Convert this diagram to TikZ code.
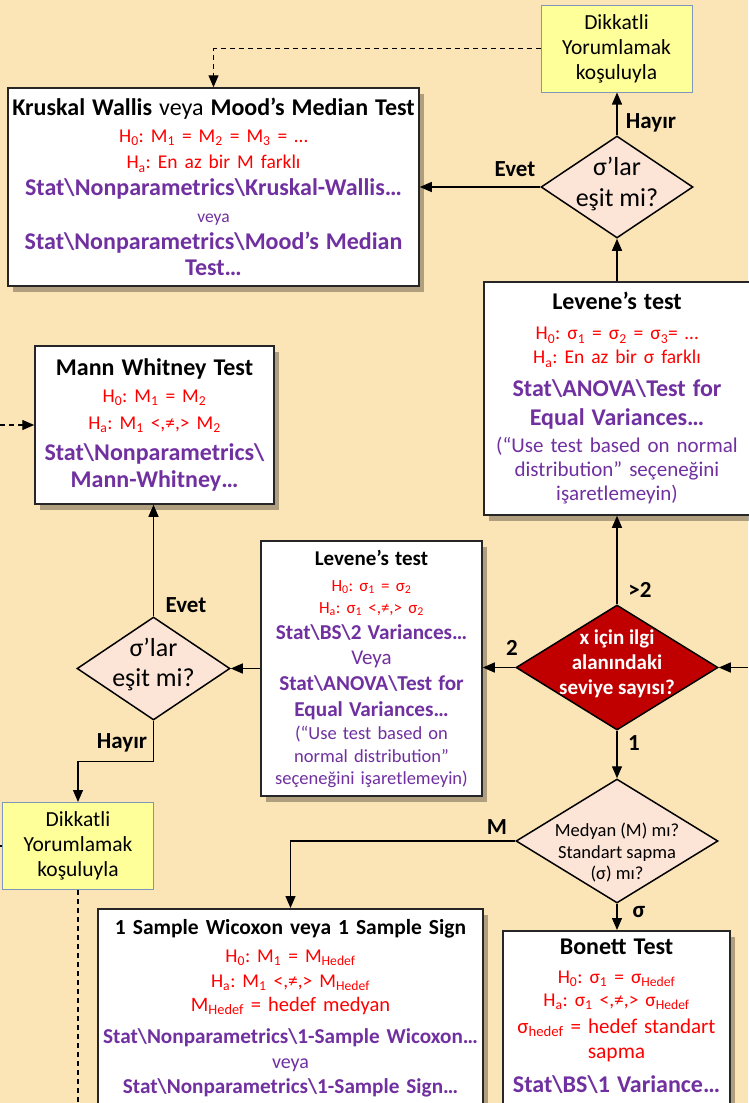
\documentclass[tikz,border=0pt]{standalone}
\usepackage{fontspec}
\setmainfont{Carlito}
\usepackage{tikz}
\usetikzlibrary{arrows.meta, positioning, shapes.geometric, shadows}
\frenchspacing

\definecolor{bgtan}{RGB}{251,229,182}
\definecolor{hred}{RGB}{255,0,0}
\definecolor{prp}{RGB}{112,48,160}
\definecolor{notefill}{RGB}{255,255,153}
\definecolor{noteline}{RGB}{125,150,185}
\definecolor{peach}{RGB}{252,228,214}
\definecolor{darkred}{RGB}{192,0,0}

\newcommand{\bs}{\textbackslash}
\newcommand{\sbs}[1]{\textsubscript{#1}}
\newcommand{\ttl}{\fontsize{24}{24}\selectfont\bfseries}
\newcommand{\ttls}{\fontsize{21}{21}\selectfont\bfseries}
\newcommand{\pth}{\fontsize{24}{24}\selectfont\bfseries\color{prp}}
\newcommand{\pths}{\fontsize{21.2}{21.2}\selectfont\bfseries\color{prp}}
\newcommand{\hyp}{\fontsize{19.5}{19.5}\selectfont\color{hred}}
\newcommand{\hyps}{\fontsize{17}{17}\selectfont\color{hred}}

\begin{document}
\begin{tikzpicture}[x=1pt, y=-1pt,
    box/.style={draw=black!85, line width=1.5pt, fill=white, align=center, inner xsep=1pt,
        drop shadow={shadow xshift=5pt, shadow yshift=-6pt, opacity=0.3, fill=black}},
    note/.style={draw=noteline, line width=1pt, fill=notefill, align=center, inner sep=0pt,
        minimum width=151pt, minimum height=87pt, font=\fontsize{21.5}{25}\selectfont},
    ask/.style={diamond, draw=black, line width=1.5pt, fill=peach, inner sep=0pt},
    flow/.style={-{Triangle[length=12pt,width=10pt]}, line width=1.3pt},
    dflow/.style={flow, dash pattern=on 5pt off 4pt},
    lbl/.style={font=\fontsize{23}{23}\selectfont\bfseries, inner sep=0pt}
]
\useasboundingbox (0,0) rectangle (748,1103);
\fill[bgtan] (0,0) rectangle (748,1103);

% Notes
\node[note] (yel1) at (616.5,48.5) {Dikkatli\\Yorumlamak\\koşuluyla};
\node[note] (yel2) at (78,846) {Dikkatli\\Yorumlamak\\koşuluyla};

% Test boxes
\node[box, minimum width=411pt, minimum height=198pt, text width=409pt,
    font=\fontsize{21}{26.7}\selectfont] (krus) at (213.5,187) {%
    {\ttl Kruskal Wallis {\mdseries veya} Mood’s Median Test}\\
    {\hyp H\sbs{0}: M\sbs{1} = M\sbs{2} = M\sbs{3} = …}\\
    {\hyp H\sbs{a}: En az bir M farklı}\\
    {\pth Stat\bs Nonparametrics\bs Kruskal-Wallis…}\\
    {\color{prp}\fontsize{17.5}{17.5}\selectfont veya}\\
    {\pth Stat\bs Nonparametrics\bs Mood’s Median}\\
    {\pth Test…}};

\node[box, minimum width=239pt, minimum height=158pt, text width=237pt,
    font=\fontsize{21}{27}\selectfont] (mann) at (154.5,425) {%
    {\ttl Mann Whitney Test}\\
    {\hyp H\sbs{0}: M\sbs{1} = M\sbs{2}}\\
    {\hyp H\sbs{a}: M\sbs{1} <,≠,> M\sbs{2}}\\[4pt]
    {\pth Stat\bs Nonparametrics\bs}\\
    {\pth Mann-Whitney…}};

\node[box, minimum width=266pt, minimum height=233pt, text width=264pt,
    font=\fontsize{21}{24}\selectfont] (lev3) at (617,398.5) {%
    {\ttl Levene’s test}\\[6pt]
    {\hyp H\sbs{0}: σ\sbs{1} = σ\sbs{2} = σ\sbs{3}= …}\\
    {\hyp H\sbs{a}: En az bir σ farklı}\\[9pt]
    {\pth Stat\bs ANOVA\bs Test for}\\[5pt]
    {\pth Equal Variances…}\\[3pt]
    {\color{prp}(“Use test based on normal}\\
    {\color{prp}distribution” seçeneğini}\\
    {\color{prp}işaretlemeyin)}};

\node[box, minimum width=221pt, minimum height=255pt, text width=219pt,
    font=\fontsize{18.5}{23}\selectfont] (lev2) at (371.5,668.5) {%
    {\ttls Levene’s test}\\[3pt]
    {\hyps H\sbs{0}: σ\sbs{1} = σ\sbs{2}}\\[-1pt]
    {\hyps H\sbs{a}: σ\sbs{1} <,≠,> σ\sbs{2}}\\[3pt]
    {\pths Stat\bs BS\bs 2 Variances…}\\[2pt]
    {\color{prp}\fontsize{21}{21}\selectfont Veya}\\[3pt]
    {\pths Stat\bs ANOVA\bs Test for}\\[3pt]
    {\pths Equal Variances…}\\
    {\color{prp}(“Use test based on}\\
    {\color{prp}normal distribution”}\\[-1pt]
    {\color{prp}seçeneğini işaretlemeyin)}};

\node[box, anchor=north, minimum width=385pt, text width=383pt, inner ysep=11pt,
    font=\fontsize{21}{24.5}\selectfont] (one) at (290.5,908) {%
    {\fontsize{21.5}{21.5}\selectfont\bfseries 1 Sample Wicoxon veya 1 Sample Sign}\\[3.5pt]
    {\hyp H\sbs{0}: M\sbs{1} = M\sbs{Hedef}}\\
    {\hyp H\sbs{a}: M\sbs{1} <,≠,> M\sbs{Hedef}}\\
    {\hyp\fontsize{20.5}{20.5}\selectfont M\sbs{Hedef} = hedef medyan}\\[7.5pt]
    {\pths Stat\bs Nonparametrics\bs 1-Sample Wicoxon…}\\[0.5pt]
    {\color{prp}\fontsize{20}{20}\selectfont veya}\\[0.5pt]
    {\pths Stat\bs Nonparametrics\bs 1-Sample Sign…}\\[40pt]\mbox{}};

\node[box, anchor=north, minimum width=227pt, text width=225pt, inner ysep=8.5pt,
    font=\fontsize{21}{24}\selectfont] (bon) at (616.5,930) {%
    {\ttl Bonett Test}\\[5pt]
    {\hyp H\sbs{0}: σ\sbs{1} = σ\sbs{Hedef}}\\[-1pt]
    {\hyp H\sbs{a}: σ\sbs{1} <,≠,> σ\sbs{Hedef}}\\[3pt]
    {\hyp\fontsize{21}{21}\selectfont σ\sbs{hedef} = hedef standart}\\[1pt]
    {\hyp\fontsize{21.5}{21.5}\selectfont sapma}\\[10pt]
    {\pth Stat\bs BS\bs 1 Variance…}\\[40pt]\mbox{}};

% Decisions
\node[ask, minimum width=152pt, minimum height=102pt,
    label={[align=center, yshift=3pt, font=\fontsize{26}{30.5}\selectfont]center:σ’lar\\eşit mi?}] (tdia) at (617,187) {};
\node[ask, minimum width=153pt, minimum height=103pt,
    label={[align=center, yshift=4pt, font=\fontsize{26}{30.5}\selectfont]center:σ’lar\\eşit mi?}] (ldia) at (153.5,668.5) {};
\node[ask, fill=darkred, minimum width=202pt, minimum height=125pt,
    label={[align=center, yshift=4pt, text=white, font=\fontsize{21}{25}\selectfont\bfseries]center:x için ilgi\\alanındaki\\seviye sayısı?}] (rdia) at (617,667.5) {};
\node[ask, minimum width=202pt, minimum height=124pt,
    label={[align=center, yshift=-12pt, font=\fontsize{18.5}{21.5}\selectfont]center:Medyan (M) mı?\\Standart sapma\\(σ) mı?}] (med) at (617,841) {};

% Loose ends
\coordinate (mw-in) at (0,425);
\coordinate (red-in) at (748,667.5);
\coordinate (yel2-in) at (0,846);
\coordinate (yel2-out) at (78,1103);

% Connectors
\draw[flow] (tdia.north) -- (tdia.north |- yel1.south);
\draw[flow] (tdia.west) -- (krus.east);
\draw[flow] (lev3.north) -- (tdia.south);
\draw[flow] (rdia.north) -- (lev3.south);
\draw[flow] (rdia.west) -- (rdia.west -| lev2.east);
\draw[flow] (lev2.west) -- (lev2.west -| ldia.east);
\draw[flow] (rdia.south) -- (med.north);
\draw[flow] (red-in) -- (rdia.east);
\draw[flow] (ldia.north) -- (ldia.north |- mann.south);
\draw[flow] (ldia.south) -- ++(0,41) -| (yel2.north);
\draw[flow] (med.west) -| (one.north);
\draw[flow] (med.south) -- (med.south |- bon.north);
\draw[dflow] (yel1.west) -| (krus.north);
\draw[dflow] (mw-in) -- (mann.west);
\draw[line width=1.3pt] (yel2-in) -- (yel2.west);
\draw[line width=1.3pt, dash pattern=on 5pt off 4pt] (yel2.south) -- (yel2-out);

% Labels
\node[lbl] (l-hayir1) at (651,123) {Hayır};
\node[lbl] (l-evet1) at (515,169) {Evet};
\node[lbl] (l-gt2) at (640,590) {>2};
\node[lbl] (l-two) at (512,648) {2};
\node[lbl] (l-one) at (634,743) {1};
\node[lbl] (l-evet2) at (186,605) {Evet};
\node[lbl] (l-hayir2) at (122,743) {Hayır};
\node[lbl] (l-m) at (497,827) {M};
\node[lbl] (l-sigma) at (639,912) {σ};
\end{tikzpicture}
\end{document}
